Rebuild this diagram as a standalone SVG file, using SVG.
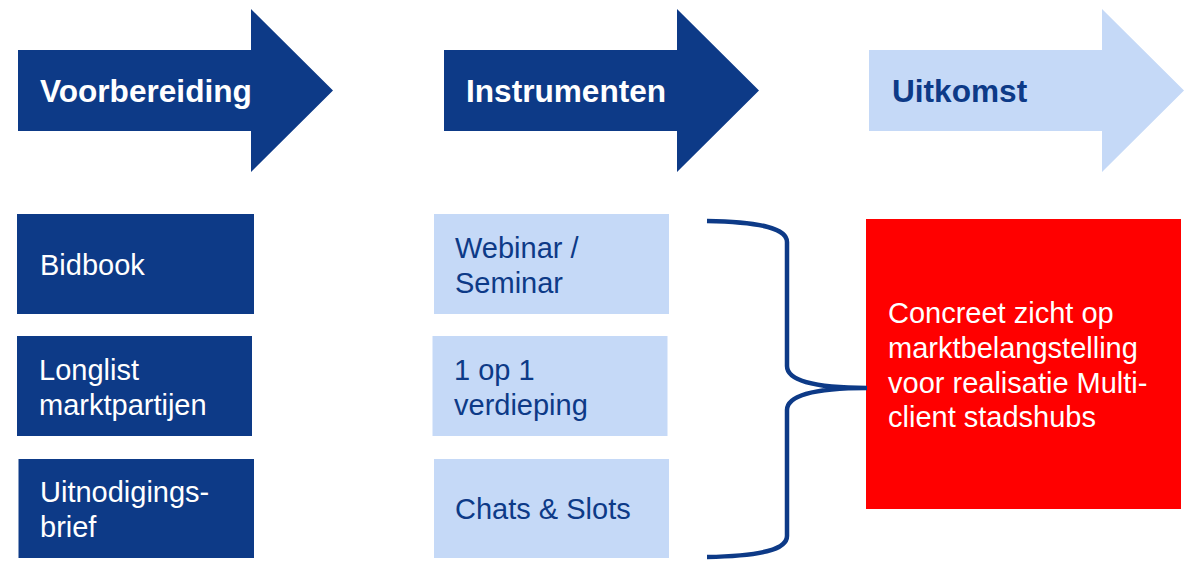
<svg xmlns="http://www.w3.org/2000/svg" width="1192" height="563" viewBox="0 0 1192 563">
  <style>
    .dark { fill: #0d3a87; }
    .light { fill: #c5d9f7; }
    .head { font-family: "Liberation Sans", Arial, sans-serif; font-weight: bold; font-size: 31.6px; }
    .lbl { font-family: "Liberation Sans", Arial, sans-serif; font-size: 29px; }
    .w { fill: #ffffff; }
    .b { fill: #0d3a87; }
  </style>
  <defs>
    <polygon id="arrowShape" points="0,50 233,50 233,9 315,90.5 233,172 233,131 0,131"/>
  </defs>

  <!-- Phase arrows -->
  <g id="arrow-voorbereiding">
    <use href="#arrowShape" x="18" class="dark"/>
    <text class="head w" x="40" y="102">Voorbereiding</text>
  </g>
  <g id="arrow-instrumenten">
    <use href="#arrowShape" x="444" class="dark"/>
    <text class="head w" x="466" y="102">Instrumenten</text>
  </g>
  <g id="arrow-uitkomst">
    <use href="#arrowShape" x="869" class="light"/>
    <text class="head b" x="892" y="102">Uitkomst</text>
  </g>

  <!-- Preparation items -->
  <g id="node-bidbook">
    <rect x="17" y="214" width="237" height="100" class="dark"/>
    <text class="lbl w" x="40" y="275">Bidbook</text>
  </g>
  <g id="node-longlist">
    <rect x="17" y="336" width="235" height="100" class="dark"/>
    <text class="lbl w" x="39" y="380">Longlist</text>
    <text class="lbl w" x="39" y="415">marktpartijen</text>
  </g>
  <g id="node-uitnodiging">
    <rect x="18.5" y="459" width="235.5" height="99" class="dark"/>
    <text class="lbl w" x="40" y="502">Uitnodigings-</text>
    <text class="lbl w" x="40" y="537">brief</text>
  </g>

  <!-- Instruments -->
  <g id="node-webinar">
    <rect x="434" y="214" width="235" height="100" class="light"/>
    <text class="lbl b" x="455" y="258">Webinar /</text>
    <text class="lbl b" x="455" y="293">Seminar</text>
  </g>
  <g id="node-1op1">
    <rect x="432.5" y="336" width="235" height="100" class="light"/>
    <text class="lbl b" x="454" y="380">1 op 1</text>
    <text class="lbl b" x="454" y="415">verdieping</text>
  </g>
  <g id="node-chats">
    <rect x="434" y="459" width="235" height="99" class="light"/>
    <text class="lbl b" x="455" y="519">Chats &amp; Slots</text>
  </g>

  <!-- Outcome -->
  <g id="node-uitkomst">
    <rect x="866" y="219" width="315" height="290" fill="#ff0000"/>
    <text class="lbl w" x="888" y="323">Concreet zicht op</text>
    <text class="lbl w" x="888" y="358">marktbelangstelling</text>
    <text class="lbl w" x="888" y="393">voor realisatie Multi-</text>
    <text class="lbl w" x="888" y="427">client stadshubs</text>
  </g>

  <!-- Connectors -->
  <g id="connectors">
    <path d="M707,221 C760,222 787,228 787,242 L787,366 C787,380 812,388 867,388 C812,388 787,396 787,410 L787,536 C787,550 760,556 707,557" fill="none" stroke="#0d3a87" stroke-width="4.5"/>
  </g>
</svg>
